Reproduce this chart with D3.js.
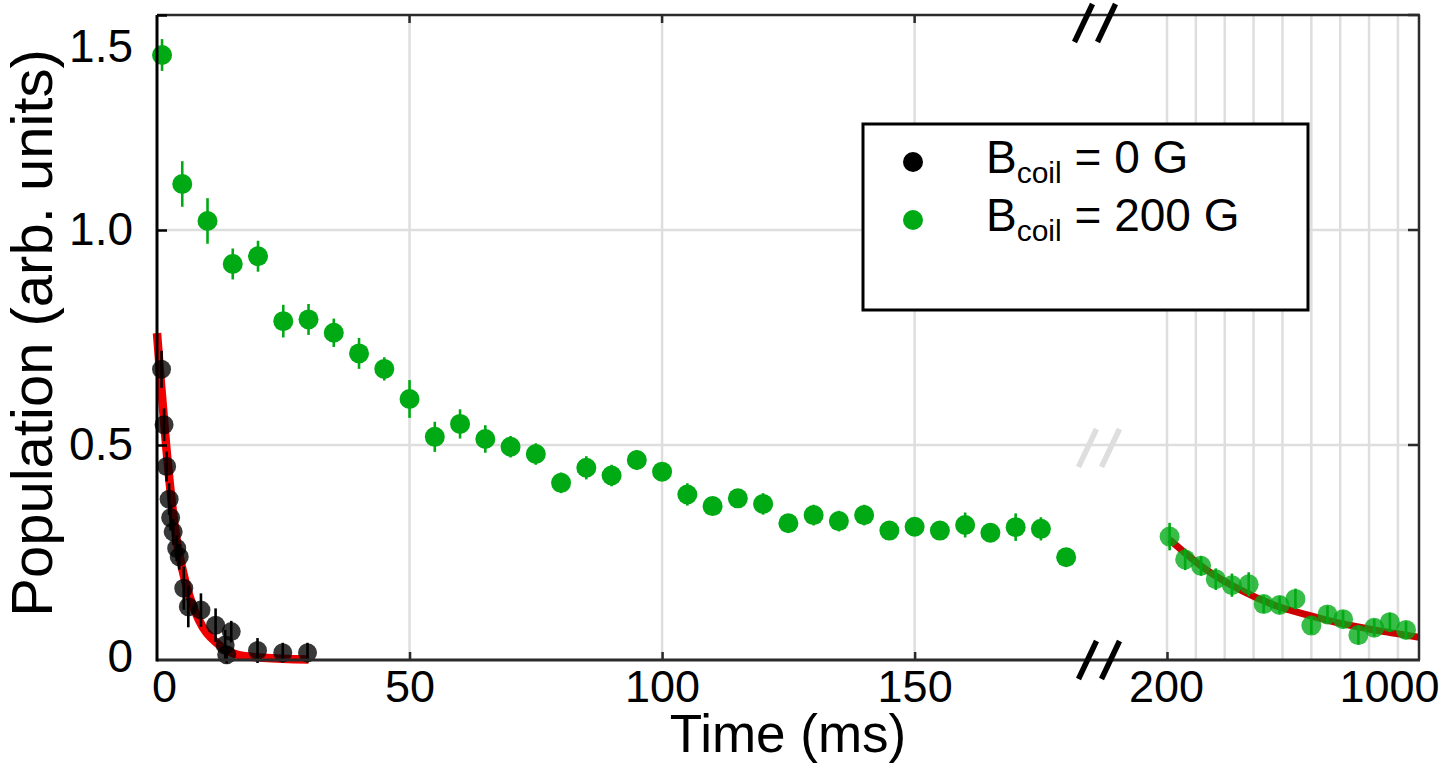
<!DOCTYPE html>
<html>
<head>
<meta charset="utf-8">
<script src="https://cdn.jsdelivr.net/npm/d3@7"></script>
<style>
    body { margin: 0; background: #fff; }
    svg { display: block; }
    text { font-family: "Liberation Sans", Arial, Helvetica, sans-serif; fill: #000; }
</style>
</head>
<body>
<svg id="chart" width="1439" height="765"></svg>
<script>
// ---- data ----
const yTickValues = [0, 0.5, 1.0, 1.5];
const yTickLabels = ["0", "0.5", "1.0", "1.5"];
const xTicksShort = [0, 50, 100, 150];
const xTicksLong = [200, 1000];
const gridLong = [200, 300, 400, 500, 600, 700, 800, 900, 1000];

// B_coil = 0 G (black)
const coil0Time = [0.9, 1.4, 1.9, 2.4, 2.7, 3.2, 3.9, 4.4, 5.3, 6.2, 8.7, 11.6, 13.5, 13.8, 14.7, 19.9, 24.9, 29.8];
const coil0Val  = [0.676, 0.547, 0.450, 0.374, 0.331, 0.298, 0.260, 0.240, 0.167, 0.124, 0.116, 0.081, 0.035, 0.012, 0.066, 0.022, 0.017, 0.017];
const coil0Err  = [0.043, 0.038, 0.035, 0.037, 0.030, 0.030, 0.030, 0.030, 0.050, 0.048, 0.039, 0.039, 0.035, 0.020, 0.025, 0.029, 0.023, 0.023];

// B_coil = 200 G (green), short time part
const coil200Time = [1, 5, 10, 15, 20, 25, 30, 35, 40, 45, 50, 55, 60, 65, 70, 75, 80, 85, 90, 95, 100,
    105, 110, 115, 120, 125, 130, 135, 140, 145, 150, 155, 160, 165, 170, 175, 180];
const coil200Val = [1.407, 1.107, 1.021, 0.921, 0.939, 0.788, 0.792, 0.761, 0.713, 0.677,
    0.607, 0.519, 0.549, 0.514, 0.496,
    0.479, 0.412, 0.447, 0.429, 0.465, 0.438, 0.385, 0.358, 0.376, 0.363, 0.318,
    0.337, 0.323, 0.337, 0.301, 0.310, 0.301, 0.314, 0.296, 0.309, 0.305, 0.239];
const coil200Err = [0.037, 0.053, 0.053, 0.036, 0.036, 0.038, 0.036, 0.033, 0.036, 0.027,
    0.044, 0.035, 0.034, 0.032, 0.025,
    0.025, 0.024, 0.027, 0.025, 0.023, 0.020, 0.026, 0.020, 0.020, 0.025, 0.020,
    0.024, 0.024, 0.024, 0.020, 0.020, 0.020, 0.029, 0.020, 0.032, 0.027, 0.020];

// B_coil = 200 G, long time part (after the axis break)
const coil200LongTime = [209, 263, 318, 369, 425, 483, 535, 590, 645, 700, 756, 810, 863, 918, 972, 1028];
const coil200LongVal  = [0.287, 0.234, 0.219, 0.188, 0.174, 0.176, 0.130, 0.128, 0.142, 0.080, 0.106, 0.095, 0.058, 0.075, 0.088, 0.070];
const coil200LongErr  = [0.032, 0.025, 0.023, 0.025, 0.027, 0.028, 0.020, 0.020, 0.024, 0.020, 0.020, 0.020, 0.022, 0.020, 0.022, 0.020];

// red fit curves
const fitShortTime = [0, 0.8, 1.8, 3.6, 5.7, 8.3, 11.9, 16, 21, 30];
const fitShortVal  = [0.76, 0.64, 0.50, 0.302, 0.178, 0.093, 0.039, 0.012, 0.005, 0.001];
const fitLongTime = [209, 338, 454, 570, 686, 802, 918, 1073];
const fitLongVal  = [0.280, 0.209, 0.163, 0.128, 0.105, 0.085, 0.070, 0.053];

const legendLabels = ["0 G", "200 G"];

document.addEventListener("DOMContentLoaded", function(){
    const svg = d3.select("#chart");

    const plotLeft = 157, plotRight = 1419, plotTop = 15, plotBottom = 660;

    // two x scales either side of the break
    const xShort = d3.scaleLinear().domain([0, 186.7]).range([plotLeft, 1100]);
    const xLong = d3.scaleLinear().domain([200, 1073]).range([1167, plotRight]);
    const y = d3.scaleLinear().domain([0, 1.5]).range([plotBottom, plotTop]);

    const green = "#00aa14";
    const gridColor = "#dedede";
    const axisColor = "#2b2b2b";

    // gridlines
    const grid = svg.append("g");
    grid.selectAll("line.h").data([0.5, 1.0]).enter().append("line")
        .attr("x1", plotLeft).attr("x2", plotRight)
        .attr("y1", d => y(d)).attr("y2", d => y(d))
        .attr("stroke", gridColor).attr("stroke-width", 2.5);
    grid.selectAll("line.vs").data([50, 100, 150]).enter().append("line")
        .attr("x1", d => xShort(d)).attr("x2", d => xShort(d))
        .attr("y1", plotTop).attr("y2", plotBottom)
        .attr("stroke", gridColor).attr("stroke-width", 2.5);
    grid.selectAll("line.vl").data(gridLong).enter().append("line")
        .attr("x1", d => xLong(d)).attr("x2", d => xLong(d))
        .attr("y1", plotTop).attr("y2", plotBottom)
        .attr("stroke", gridColor).attr("stroke-width", 2.5);

    // break marks, "//" pairs
    function drawBreak(cx, cy, color){
        [-11.5, 11.5].forEach(off => {
            svg.append("line")
                .attr("x1", cx + off - 9).attr("y1", cy + 19)
                .attr("x2", cx + off + 9).attr("y2", cy - 19)
                .attr("stroke", color).attr("stroke-width", 5.5);
        });
    }
    const breakX = xShort.range()[1];
    drawBreak(breakX - 1, y(0.5) + 3, gridColor);

    // fit lines
    const lineShort = d3.line().x(d => xShort(d[0])).y(d => y(d[1])).curve(d3.curveMonotoneX);
    const lineLong = d3.line().x(d => xLong(d[0])).y(d => y(d[1])).curve(d3.curveMonotoneX);
    svg.append("path")
        .attr("d", lineShort(d3.zip(fitShortTime, fitShortVal)))
        .attr("fill", "none").attr("stroke", "#f00000").attr("stroke-width", 8.5);
    svg.append("path")
        .attr("d", lineLong(d3.zip(fitLongTime, fitLongVal)))
        .attr("fill", "none").attr("stroke", "#cc0000").attr("stroke-width", 7);

    // points with vertical error bars
    function drawSeries(xs, times, vals, errs, fill, opacity, barColor, radius){
        const pts = times.map((t, i) => ({t: t, v: vals[i], e: errs[i]}));
        const g = svg.append("g");
        g.selectAll("circle").data(pts).enter().append("circle")
            .attr("cx", d => xs(d.t)).attr("cy", d => y(d.v))
            .attr("r", radius)
            .attr("fill", fill).attr("fill-opacity", opacity);
        g.selectAll("line").data(pts).enter().append("line")
            .attr("x1", d => xs(d.t)).attr("x2", d => xs(d.t))
            .attr("y1", d => y(d.v - d.e)).attr("y2", d => y(d.v + d.e))
            .attr("stroke", barColor).attr("stroke-width", 2.6);
    }
    drawSeries(xShort, coil0Time, coil0Val, coil0Err, "#000", 0.78, "#000", 9.5);
    drawSeries(xShort, coil200Time, coil200Val, coil200Err, green, 1, green, 10);
    drawSeries(xLong, coil200LongTime, coil200LongVal, coil200LongErr, "#00aa14", 0.78, green, 10);

    // frame
    svg.append("line").attr("x1", plotLeft).attr("x2", plotRight + 1).attr("y1", plotTop).attr("y2", plotTop)
        .attr("stroke", axisColor).attr("stroke-width", 2.5);
    svg.append("line").attr("x1", plotLeft).attr("x2", plotRight + 1).attr("y1", plotBottom).attr("y2", plotBottom)
        .attr("stroke", axisColor).attr("stroke-width", 3);
    svg.append("line").attr("x1", plotRight).attr("x2", plotRight).attr("y1", plotTop).attr("y2", plotBottom)
        .attr("stroke", axisColor).attr("stroke-width", 2.5);
    svg.append("line").attr("x1", plotLeft).attr("x2", plotLeft).attr("y1", plotTop).attr("y2", plotBottom + 1.5)
        .attr("stroke", "#000").attr("stroke-width", 3);

    // inner ticks on right and top
    svg.selectAll("line.rt").data([0.5, 1.0, 1.5]).enter().append("line")
        .attr("x1", plotRight - 11).attr("x2", plotRight)
        .attr("y1", d => y(d)).attr("y2", d => y(d))
        .attr("stroke", axisColor).attr("stroke-width", 2.5);
    svg.selectAll("line.tt").data([50, 100, 150]).enter().append("line")
        .attr("x1", d => xShort(d)).attr("x2", d => xShort(d))
        .attr("y1", plotTop).attr("y2", plotTop + 8)
        .attr("stroke", axisColor).attr("stroke-width", 2.5);

    // x axes
    const xAxisShort = d3.axisBottom(xShort).tickValues(xTicksShort).tickFormat(d3.format("d"))
        .tickSizeInner(-8).tickSizeOuter(0).tickPadding(10);
    const xAxisLong = d3.axisBottom(xLong).tickValues(xTicksLong).tickFormat(d3.format("d"))
        .tickSizeInner(-8).tickSizeOuter(0).tickPadding(10);
    [xAxisShort, xAxisLong].forEach(ax => {
        const g = svg.append("g")
            .attr("transform", `translate(0, ${plotBottom})`)
            .call(ax);
        g.select(".domain").remove();
        g.selectAll(".tick line").attr("stroke", axisColor).attr("stroke-width", 2.5);
        g.selectAll(".tick text").attr("font-size", 45).attr("font-family", null).attr("fill", "#000");
    });
    // the 0 tick sits on the y axis itself, 1000 label pulled in a bit
    svg.selectAll(".tick").filter(d => d === 0 || d === 1000).select("line").remove();
    svg.selectAll(".tick").filter(d => d === 0).select("text").attr("dx", 7);
    svg.selectAll(".tick").filter(d => d === 1000).select("text").attr("dx", -9);
    svg.selectAll(".tick").filter(d => d === 200).select("text").attr("dx", -1);

    // y axis
    const yAxis = d3.axisLeft(y).tickValues(yTickValues)
        .tickFormat((d, i) => yTickLabels[i])
        .tickSizeInner(-10).tickSizeOuter(0).tickPadding(24);
    const yg = svg.append("g")
        .attr("transform", `translate(${plotLeft}, 0)`)
        .call(yAxis);
    yg.select(".domain").remove();
    yg.selectAll(".tick line").attr("stroke", "#000").attr("stroke-width", 2.5);
    yg.selectAll(".tick text").attr("font-size", 46).attr("font-family", null).attr("fill", "#000");
    yg.selectAll(".tick").filter(d => d === 0).select("line").remove();
    yg.selectAll(".tick").filter(d => d === 1.5).select("text").attr("dy", "1.0em");
    yg.selectAll(".tick").filter(d => d === 0).select("text").attr("dy", "0.25em");

    // break marks on the frame
    drawBreak(breakX - 1, plotBottom, "#000");
    drawBreak(breakX - 5, plotTop + 8, "#000");

    // axis titles
    svg.append("text")
        .attr("x", 788).attr("y", 752)
        .attr("text-anchor", "middle")
        .attr("font-size", 53)
        .text("Time (ms)");
    svg.append("text")
        .attr("transform", "translate(52, 333) rotate(-90)")
        .attr("text-anchor", "middle")
        .attr("font-size", 58)
        .text("Population (arb. units)");

    // legend
    const legend = svg.append("g");
    legend.append("rect")
        .attr("x", 863).attr("y", 124).attr("width", 445).attr("height", 186)
        .attr("fill", "#fff").attr("stroke", "#000").attr("stroke-width", 3);
    const legendColors = ["#000", green];
    legendLabels.forEach((lab, i) => {
        const rowY = 173 + i * 58;
        legend.append("circle")
            .attr("cx", 913).attr("cy", rowY - 11).attr("r", 10)
            .attr("fill", legendColors[i]);
        const t = legend.append("text")
            .attr("x", 986).attr("y", rowY)
            .attr("font-size", 46);
        t.append("tspan").text("B");
        t.append("tspan").attr("font-size", 30).attr("dy", 10).text("coil");
        t.append("tspan").attr("dy", -10).text(" = " + lab);
    });
});
</script>
</body>
</html>
